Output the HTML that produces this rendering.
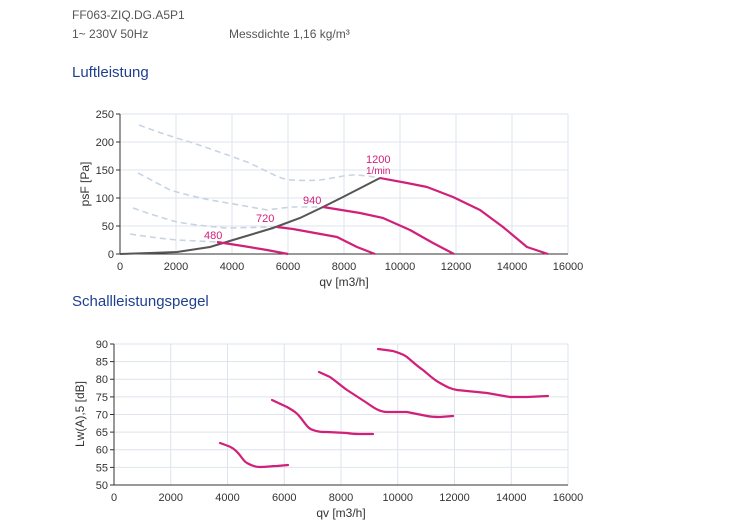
<!DOCTYPE html>
<html><head><meta charset="utf-8"><style>
html,body{margin:0;padding:0;background:#fff;width:750px;height:524px;overflow:hidden}
svg{display:block;font-family:"Liberation Sans",sans-serif}
</style></head><body>
<svg width="750" height="524" viewBox="0 0 750 524" xmlns="http://www.w3.org/2000/svg">
<g fill="#555" font-size="12">
<text x="72" y="19">FF063-ZIQ.DG.A5P1</text>
<text x="72" y="38">1~ 230V 50Hz</text>
<text x="229" y="38">Messdichte 1,16 kg/m³</text>
</g>
<text x="72" y="77" font-size="15" fill="#1f3f8f">Luftleistung</text>
<text x="72" y="306" font-size="15" fill="#1f3f8f">Schallleistungspegel</text>

<!-- Chart 1 -->
<g stroke="#dde4ec" stroke-width="1">
<line x1="176" y1="114" x2="176" y2="254"/><line x1="232" y1="114" x2="232" y2="254"/><line x1="288" y1="114" x2="288" y2="254"/><line x1="344" y1="114" x2="344" y2="254"/><line x1="400" y1="114" x2="400" y2="254"/><line x1="456" y1="114" x2="456" y2="254"/><line x1="512" y1="114" x2="512" y2="254"/><line x1="568" y1="114" x2="568" y2="254"/>
<line x1="120" y1="114" x2="568" y2="114"/><line x1="120" y1="142" x2="568" y2="142"/><line x1="120" y1="170" x2="568" y2="170"/><line x1="120" y1="198" x2="568" y2="198"/><line x1="120" y1="226" x2="568" y2="226"/>
</g>
<g stroke="#333" stroke-width="1" fill="none">
<line x1="120" y1="114" x2="120" y2="254"/><line x1="120" y1="254" x2="568" y2="254"/>
<line x1="116" y1="114" x2="120" y2="114"/><line x1="116" y1="142" x2="120" y2="142"/><line x1="116" y1="170" x2="120" y2="170"/><line x1="116" y1="198" x2="120" y2="198"/><line x1="116" y1="226" x2="120" y2="226"/><line x1="116" y1="254" x2="120" y2="254"/>
</g>
<g font-size="11" fill="#333" text-anchor="end">
<text x="114" y="118">250</text><text x="114" y="146">200</text><text x="114" y="174">150</text><text x="114" y="202">100</text><text x="114" y="230">50</text><text x="114" y="258">0</text>
</g>
<g font-size="11" fill="#333" text-anchor="middle">
<text x="120" y="270">0</text><text x="176" y="270">2000</text><text x="232" y="270">4000</text><text x="288" y="270">6000</text><text x="344" y="270">8000</text><text x="400" y="270">10000</text><text x="456" y="270">12000</text><text x="512" y="270">14000</text><text x="568" y="270">16000</text>
<text x="344" y="286" font-size="12">qv [m3/h]</text>
<text transform="translate(89,184) rotate(-90)" font-size="12">psF [Pa]</text>
</g>
<g fill="none" stroke="#c8d4e2" stroke-width="1.6" stroke-dasharray="6,4">
<path d="M139,125 C165,135 193,143 193,143 C220,152 247,162 247,162 C270,172 280,180 293,180 C305,181 320,180 320,180 C335,178 345,175 353,175 C365,175 380,178 380,178"/>
<path d="M138,173 C155,182 170,190 170,190 C190,196 210,200 210,200 C240,205 267,210 267,210 C280,208 293,207 293,207 L323,207"/>
<path d="M133,208 C155,216 177,222 177,222 C200,226 227,228 227,228 L277,227"/>
<path d="M130,234 C155,238 177,240 177,240 L217,242"/>
</g>
<path d="M120,254 L150,253 L177,252 L210,247 L233,240 L273,228 L300,218 L323,207 L343,197 L380,178" fill="none" stroke="#555" stroke-width="2"/>
<g fill="none" stroke="#d0207a" stroke-width="2.2" stroke-linejoin="round">
<path d="M380,178 L407,183 L427,187 L453,197 L480,210 L503,227 L527,247 L548,254"/>
<path d="M323,207 L360,213 L383,218 L410,230 L433,243 L454,254"/>
<path d="M277,227 L293,229 L337,237 L357,247 L375,254"/>
<path d="M217,242 L243,246 L267,250 L288,254"/>
</g>
<g fill="#d0207a" font-size="11">
<text x="366" y="163">1200</text><text x="366" y="174" font-size="10">1/min</text>
<text x="303" y="204">940</text><text x="256" y="222">720</text><text x="204" y="239">480</text>
</g>

<!-- Chart 2 -->
<g stroke="#dde4ec" stroke-width="1">
<line x1="170.75" y1="344" x2="170.75" y2="485"/><line x1="227.5" y1="344" x2="227.5" y2="485"/><line x1="284.25" y1="344" x2="284.25" y2="485"/><line x1="341" y1="344" x2="341" y2="485"/><line x1="397.75" y1="344" x2="397.75" y2="485"/><line x1="454.5" y1="344" x2="454.5" y2="485"/><line x1="511.25" y1="344" x2="511.25" y2="485"/><line x1="568" y1="344" x2="568" y2="485"/>
<line x1="114" y1="344" x2="568" y2="344"/><line x1="114" y1="361.6" x2="568" y2="361.6"/><line x1="114" y1="379.25" x2="568" y2="379.25"/><line x1="114" y1="396.9" x2="568" y2="396.9"/><line x1="114" y1="414.5" x2="568" y2="414.5"/><line x1="114" y1="432.1" x2="568" y2="432.1"/><line x1="114" y1="449.75" x2="568" y2="449.75"/><line x1="114" y1="467.4" x2="568" y2="467.4"/>
</g>
<g stroke="#333" stroke-width="1">
<line x1="114" y1="344" x2="114" y2="485"/><line x1="114" y1="485" x2="568" y2="485"/>
<line x1="110" y1="344" x2="114" y2="344"/><line x1="110" y1="361.6" x2="114" y2="361.6"/><line x1="110" y1="379.25" x2="114" y2="379.25"/><line x1="110" y1="396.9" x2="114" y2="396.9"/><line x1="110" y1="414.5" x2="114" y2="414.5"/><line x1="110" y1="432.1" x2="114" y2="432.1"/><line x1="110" y1="449.75" x2="114" y2="449.75"/><line x1="110" y1="467.4" x2="114" y2="467.4"/><line x1="110" y1="485" x2="114" y2="485"/>
</g>
<g font-size="11" fill="#333" text-anchor="end">
<text x="108" y="348">90</text><text x="108" y="365.6">85</text><text x="108" y="383.2">80</text><text x="108" y="400.9">75</text><text x="108" y="418.5">70</text><text x="108" y="436.1">65</text><text x="108" y="453.7">60</text><text x="108" y="471.4">55</text><text x="108" y="489">50</text>
</g>
<g font-size="11" fill="#333" text-anchor="middle">
<text x="114" y="501">0</text><text x="170.75" y="501">2000</text><text x="227.5" y="501">4000</text><text x="284.25" y="501">6000</text><text x="341" y="501">8000</text><text x="397.75" y="501">10000</text><text x="454.5" y="501">12000</text><text x="511.25" y="501">14000</text><text x="568" y="501">16000</text>
<text x="341" y="517" font-size="12">qv [m3/h]</text>
<text transform="translate(84,414) rotate(-90)" font-size="12">Lw(A),5 [dB]</text>
</g>
<g fill="none" stroke="#d0207a" stroke-width="2.2" stroke-linejoin="round" stroke-linecap="round">
<path d="M220,443 C228,446 232,447 235,450 C241,455 243,461 247,463 C252,466 256,467 260,467 C268,467 270,466 277,466 L288,465"/>
<path d="M272,400 L287,407 C294,411 297,413 300,417 C305,423 308,429 313,430 C318,432 322,432 327,432 L347,433 C352,434 356,434 360,434 L373,434"/>
<path d="M319,372 L330,377 C337,382 340,385 347,390 L367,403 C374,408 380,412 387,412 L407,412 L427,416 C432,417 436,417 440,417 L453,416"/>
<path d="M378,349 L393,351 C399,353 403,354 407,357 C413,362 417,366 423,370 C429,375 434,380 440,383 C447,387 451,389 457,390 L487,393 L510,397 L527,397 L548,396"/>
</g>
</svg>
</body></html>
